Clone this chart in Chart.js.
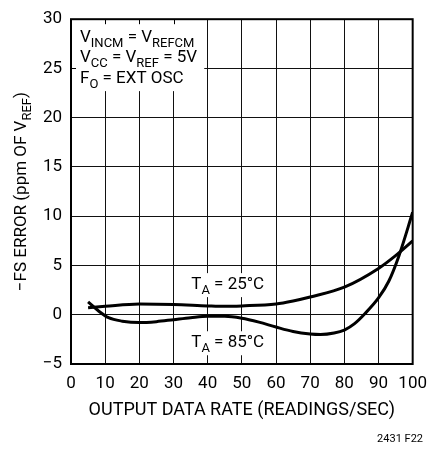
<!DOCTYPE html>
<html>
<head>
<meta charset="utf-8">
<script src="https://cdn.jsdelivr.net/npm/chart.js@4/dist/chart.umd.min.js"></script>
<style>
  html, body { margin: 0; padding: 0; background: #fff; }
  #wrap { width: 437px; height: 451px; }
</style>
</head>
<body>
<div id="wrap"><canvas id="myChart"></canvas></div>
<script>
// data
var rate25 = [5, 10, 20, 30, 40, 45, 50, 60, 65, 70, 80, 90, 95, 100];
var err25 = [0.7, 0.85, 1.1, 1.05, 0.9, 0.85, 0.9, 1.1, 1.4, 1.8, 2.8, 4.7, 6.0, 7.5];
var rate85 = [5, 8, 11, 15, 20, 25, 30, 35, 40, 45, 50, 55, 60, 65, 70, 73, 77, 80, 83, 86, 90, 93, 96, 100];
var err85 = [1.3, 0.4, -0.3, -0.65, -0.8, -0.7, -0.5, -0.3, -0.15, -0.15, -0.35, -0.75, -1.25, -1.7, -1.95, -2.0, -1.85, -1.55, -0.9, 0.1, 1.7, 3.4, 6.0, 10.4];
var xTicks = [0, 10, 20, 30, 40, 50, 60, 70, 80, 90, 100];
var yTicks = [-5, 0, 5, 10, 15, 20, 25, 30];

var FONT = 'Roboto, "Liberation Sans", sans-serif';

function toPoints(xs, ys) {
    return xs.map(function (x, i) { return { x: x, y: ys[i] }; });
}

// text with subscripts: parts = [[text, isSub], ...]
function drawParts(ctx, parts, x, y, size) {
    parts.forEach(function (p) {
        var s = p[1] ? Math.round(size * 0.75) : size;
        ctx.font = s + 'px ' + FONT;
        ctx.fillText(p[0], x, y + (p[1] ? size * 0.3 : 0));
        x += ctx.measureText(p[0]).width;
    });
    return x;
}
function partsWidth(ctx, parts, size) {
    var w = 0;
    parts.forEach(function (p) {
        var s = p[1] ? Math.round(size * 0.75) : size;
        ctx.font = s + 'px ' + FONT;
        w += ctx.measureText(p[0]).width;
    });
    return w;
}

var decor = {
    id: 'decor',
    beforeDatasetsDraw: function (chart) {
        var ctx = chart.ctx;
        var xs = chart.scales.x, ys = chart.scales.y;
        var a = chart.chartArea;
        ctx.save();
        // white box for conditions
        var bx2 = xs.getPixelForValue(39);
        var by2 = ys.getPixelForValue(22.7);
        ctx.fillStyle = '#fff';
        ctx.fillRect(a.left, a.top, bx2 - a.left, by2 - a.top);
        // small ticks kept on border
        ctx.strokeStyle = '#000';
        ctx.lineWidth = 1;
        ctx.beginPath();
        [10, 20, 30].forEach(function (v) {
            var px = Math.round(xs.getPixelForValue(v)) + 0.5;
            ctx.moveTo(px, a.top); ctx.lineTo(px, a.top + 5);
        });
        var py = Math.round(ys.getPixelForValue(25)) + 0.5;
        ctx.moveTo(a.left, py); ctx.lineTo(a.left + 5, py);
        ctx.stroke();

        ctx.fillStyle = '#000';
        ctx.textBaseline = 'alphabetic';
        ctx.textAlign = 'left';
        var tx = a.left + 9;
        drawParts(ctx, [['V', 0], ['INCM', 1], [' = V', 0], ['REFCM', 1]], tx, a.top + 23, 17);
        drawParts(ctx, [['V', 0], ['CC', 1], [' = V', 0], ['REF', 1], [' = 5V', 0]], tx, a.top + 43, 17);
        drawParts(ctx, [['F', 0], ['O', 1], [' = EXT OSC', 0]], tx, a.top + 64, 17);

        // curve labels with white background
        var labs = [
            [[['T', 0], ['A', 1], [' = 25°C', 0]], 35.2, 2.6],
            [[['T', 0], ['A', 1], [' = 85°C', 0]], 35.2, -3.3]
        ];
        labs.forEach(function (l) {
            var lx = xs.getPixelForValue(l[1]);
            var ly = ys.getPixelForValue(l[2]);
            var w = partsWidth(ctx, l[0], 17);
            ctx.fillStyle = '#fff';
            ctx.fillRect(lx - 3, ly - 16, w + 6, 24);
            ctx.fillStyle = '#000';
            drawParts(ctx, l[0], lx, ly, 17);
        });

        // frame
        ctx.lineWidth = 2;
        ctx.strokeRect(a.left, a.top, a.right - a.left, a.bottom - a.top);
        ctx.restore();
    },
    afterDraw: function (chart) {
        var ctx = chart.ctx;
        var a = chart.chartArea;
        ctx.save();
        ctx.fillStyle = '#000';
        // y axis title
        var parts = [['\u2212FS ERROR (ppm OF V', 0], ['REF', 1], [')', 0]];
        var w = partsWidth(ctx, parts, 17);
        ctx.translate(26, (a.top + a.bottom) / 2);
        ctx.rotate(-Math.PI / 2);
        ctx.textAlign = 'left';
        drawParts(ctx, parts, -w / 2, 0, 17);
        ctx.restore();
        ctx.save();
        ctx.fillStyle = '#000';
        ctx.font = '11px ' + FONT;
        ctx.textAlign = 'right';
        ctx.fillText('2431 F22', 423, 442);
        ctx.restore();
    }
};

const ctx1 = document.getElementById('myChart');

new Chart(ctx1, {
    type: 'line',
    data: {
        datasets: [{
            label: 'TA = 25°C',
            data: toPoints(rate25, err25),
            borderColor: '#000',
            borderWidth: 3,
            pointRadius: 0,
            cubicInterpolationMode: 'monotone',
            fill: false
        }, {
            label: 'TA = 85°C',
            data: toPoints(rate85, err85),
            borderColor: '#000',
            borderWidth: 3,
            pointRadius: 0,
            cubicInterpolationMode: 'monotone',
            fill: false
        }]
    },
    options: {
        responsive: true,
        maintainAspectRatio: false,
        animation: false,
        layout: { padding: { left: 0, top: 14, right: 15, bottom: 0 } },
        plugins: { legend: { display: false }, tooltip: { enabled: false } },
        scales: {
            x: {
                type: 'linear',
                min: 0, max: 100,
                afterBuildTicks: function (s) { s.ticks = xTicks.map(function (v) { return { value: v }; }); },
                afterFit: function (s) { s.height = 87; },
                grid: { color: '#111', lineWidth: 1, drawTicks: false },
                border: { display: false },
                ticks: { color: '#000', padding: 10, maxRotation: 0, font: { family: FONT, size: 17 } },
                title: {
                    display: true, text: 'OUTPUT DATA RATE (READINGS/SEC)', color: '#000',
                    font: { family: FONT, size: 18 }, padding: { top: 2, bottom: 30 }
                }
            },
            y: {
                min: -5, max: 30,
                afterBuildTicks: function (s) { s.ticks = yTicks.map(function (v) { return { value: v }; }); },
                afterFit: function (s) { s.width = 71; },
                grid: { color: '#111', lineWidth: 1, drawTicks: false },
                border: { display: false },
                ticks: {
                    color: '#000', padding: 9, font: { family: FONT, size: 17 },
                    callback: function (v) { return v < 0 ? '\u2212' + Math.abs(v) : v; }
                }
            }
        }
    },
    plugins: [decor]
});
</script>
</body>
</html>
